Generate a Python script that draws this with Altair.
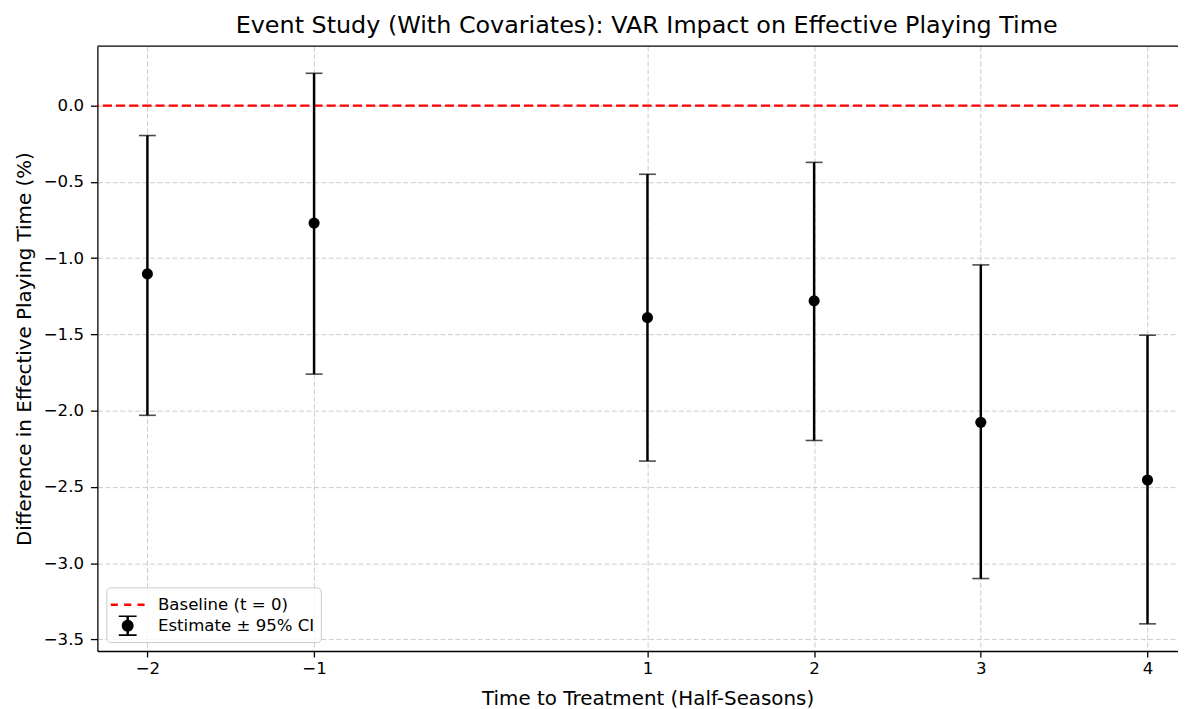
import altair as alt
import pandas as pd

# ---- data ----
periods = [-2, -1, 1, 2, 3, 4]
estimates = [-1.103, -0.770, -1.390, -1.280, -2.076, -2.454]
ci_upper = [-0.196, 0.212, -0.450, -0.372, -1.044, -1.505]
ci_lower = [-2.030, -1.760, -2.330, -2.195, -3.100, -3.397]
baseline_value = [0.0]
x_ticks = [-2, -1, 1, 2, 3, 4]
y_ticks = [0.0, -0.5, -1.0, -1.5, -2.0, -2.5, -3.0, -3.5]
legend_labels = ["Baseline (t = 0)", "Estimate \u00b1 95% CI"]
legend_colors = ["#ff0000", "#000000"]

df = pd.DataFrame({"t": periods, "est": estimates, "lo": ci_lower, "hi": ci_upper})
base_df = pd.DataFrame({"y": baseline_value})
leg_df = pd.DataFrame({"series": legend_labels, "t": [0, 0], "y": [100, 100]})

FONT = "DejaVu Sans"
X_DOMAIN = [-2.3, 4.183]
Y_DOMAIN = [-3.575, 0.39]

xscale = alt.Scale(domain=X_DOMAIN, nice=False, zero=False)
yscale = alt.Scale(domain=Y_DOMAIN, nice=False, zero=False)

minus = "'\u2212'"
xaxis = alt.Axis(
    values=x_ticks,
    labelExpr=f"replace(format(datum.value, 'd'), '-', {minus})",
    title="Time to Treatment (Half-Seasons)",
    grid=True,
    gridDash=[5, 2.5],
    gridColor="#cccccc",
    gridWidth=1,
    tickSize=6,
    labelPadding=4,
    titlePadding=11,
    titleX=554,
)
yaxis = alt.Axis(
    values=y_ticks,
    labelExpr=f"replace(format(datum.value, '.1f'), '-', {minus})",
    title="Difference in Effective Playing Time (%)",
    grid=True,
    gridDash=[5, 2.5],
    gridColor="#cccccc",
    gridWidth=1,
    tickSize=7,
    labelPadding=7,
    titlePadding=9,
)

base = alt.Chart(df)

bars = base.mark_rule(color="black", strokeWidth=2.5).encode(
    x=alt.X("t:Q", scale=xscale, axis=xaxis),
    y=alt.Y("lo:Q", scale=yscale, axis=yaxis),
    y2="hi:Q",
)
caps_hi = base.mark_tick(color="black", orient="horizontal", size=17, thickness=1.6).encode(
    x=alt.X("t:Q", scale=xscale), y=alt.Y("hi:Q", scale=yscale)
)
caps_lo = base.mark_tick(color="black", orient="horizontal", size=17, thickness=1.6).encode(
    x=alt.X("t:Q", scale=xscale), y=alt.Y("lo:Q", scale=yscale)
)
points = base.mark_circle(color="black", size=125, opacity=1).encode(
    x=alt.X("t:Q", scale=xscale), y=alt.Y("est:Q", scale=yscale)
)
baseline = alt.Chart(base_df).mark_rule(
    color="#ff0000", strokeWidth=2.5, strokeDash=[9.25, 4]
).encode(y=alt.Y("y:Q", scale=yscale))

top_spine = alt.Chart(base_df).mark_rule(color="black", strokeWidth=1.3).encode(
    y=alt.value(0), x=alt.value(0), x2=alt.value(1088)
)

# legend glyphs (unit = 11.5 px)
dash_path = ("M-1.48,-0.11h0.62v0.22h-0.62z "
             "M-0.31,-0.11h0.62v0.22h-0.62z "
             "M0.86,-0.11h0.62v0.22h-0.62z")
err_path = ("M-0.11,-0.83h0.22v1.66h-0.22z "
            "M-0.78,-0.9h1.56v0.14h-1.56z "
            "M-0.78,0.76h1.56v0.14h-1.56z "
            "M-0.52,0a0.52,0.52 0 1,1 1.04,0a0.52,0.52 0 1,1 -1.04,0z")

legend_layer = alt.Chart(leg_df).mark_point(filled=True, clip=True, opacity=1).encode(
    x=alt.X("t:Q", scale=xscale),
    y=alt.Y("y:Q", scale=yscale),
    color=alt.Color("series:N", scale=alt.Scale(domain=legend_labels, range=legend_colors),
                    legend=alt.Legend(title=None)),
    shape=alt.Shape("series:N", scale=alt.Scale(domain=legend_labels, range=[dash_path, err_path]),
                    legend=alt.Legend(title=None)),
)

chart = alt.layer(
    baseline, bars, caps_hi, caps_lo, points, top_spine, legend_layer
).properties(
    width=1088,
    height=609,
    padding={"left": 90, "top": 36, "right": 0, "bottom": 56},
    autosize=alt.AutoSizeParams(type="none"),
    title=alt.TitleParams(
        "Event Study (With Covariates): VAR Impact on Effective Playing Time",
        font=FONT, fontSize=24, fontWeight="normal", color="#000000",
        anchor="middle", offset=8, dx=9,
    ),
).configure_view(
    stroke=None
).configure_axis(
    labelFont=FONT, titleFont=FONT, labelFontSize=16.7, titleFontSize=20,
    labelColor="#000000", titleColor="#000000", titleFontWeight="normal",
    domainColor="#000000", domainWidth=1.3, tickColor="#000000", tickWidth=1.3,
).configure_legend(
    orient="bottom-left", offset=9, padding=6, fillColor="rgba(255,255,255,0.8)",
    strokeColor="#cccccc", cornerRadius=4, labelFont=FONT, labelFontSize=16.7,
    labelColor="#000000", symbolSize=529, symbolStrokeWidth=0, labelOffset=19,
    rowPadding=0, symbolOpacity=1, symbolOffset=4,
)

chart.save("out.html", embed_options={"renderer": "svg", "actions": False})
